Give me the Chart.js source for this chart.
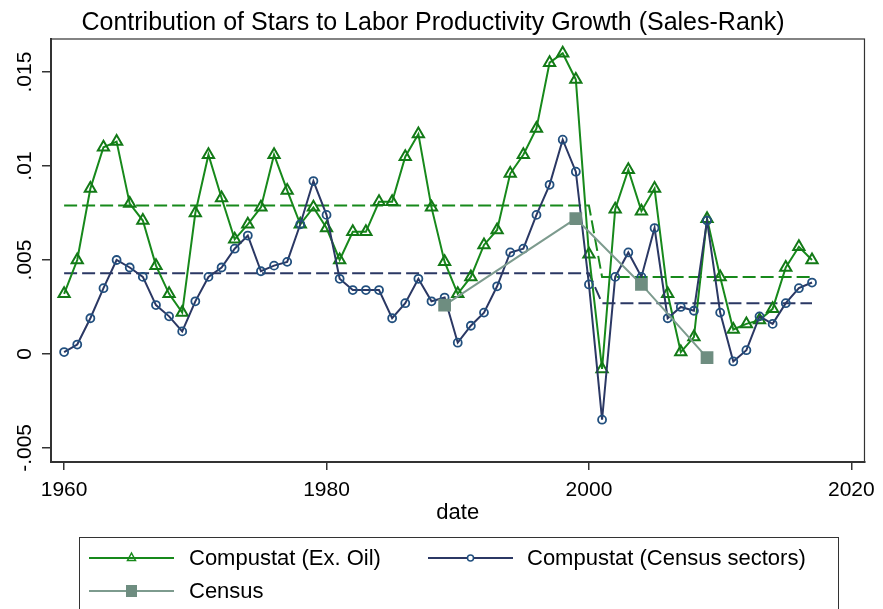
<!DOCTYPE html>
<html>
<head>
<meta charset="utf-8">
<script src="https://cdn.jsdelivr.net/npm/chart.js@4/dist/chart.umd.min.js"></script>
<style>
  html, body { margin: 0; padding: 0; background: #fff; }
  #wrap { width: 883px; height: 609px; }
</style>
</head>
<body>
<div id="wrap"><canvas id="stars-chart" width="883" height="609"></canvas></div>
<script>
// years of the Compustat series
const years = [
  1960, 1961, 1962, 1963, 1964, 1965, 1966, 1967, 1968, 1969,
  1970, 1971, 1972, 1973, 1974, 1975, 1976, 1977, 1978, 1979,
  1980, 1981, 1982, 1983, 1984, 1985, 1986, 1987, 1988, 1989,
  1990, 1991, 1992, 1993, 1994, 1995, 1996, 1997, 1998, 1999,
  2000, 2001, 2002, 2003, 2004, 2005, 2006, 2007, 2008, 2009,
  2010, 2011, 2012, 2013, 2014, 2015, 2016, 2017
];

const compustatExOil = [
  0.0032, 0.0050, 0.0088, 0.0110, 0.0113, 0.0080, 0.0071, 0.0047, 0.0032, 0.0022,
  0.0075, 0.0106, 0.0083, 0.0061, 0.0069, 0.0078, 0.0106, 0.0087, 0.0069, 0.0078,
  0.0067, 0.0050, 0.0065, 0.0065, 0.0081, 0.0081, 0.0105, 0.0117, 0.0078, 0.0049,
  0.0032, 0.0041, 0.0058, 0.0066, 0.0096, 0.0106, 0.0120, 0.0155, 0.0160, 0.0146,
  0.0053, -0.0008, 0.0077, 0.0098, 0.0076, 0.0088, 0.0032, 0.0001, 0.0009, 0.0072,
  0.0041, 0.0013, 0.0016, 0.0018, 0.0024, 0.0046, 0.0057, 0.0050
];

const compustatCensus = [
  0.0001, 0.0005, 0.0019, 0.0035, 0.0050, 0.0046, 0.0041, 0.0026, 0.0020, 0.0012,
  0.0028, 0.0041, 0.0046, 0.0056, 0.0063, 0.0044, 0.0047, 0.0049, 0.0069, 0.0092,
  0.0074, 0.0040, 0.0034, 0.0034, 0.0034, 0.0019, 0.0027, 0.0040, 0.0028, 0.0030,
  0.0006, 0.0015, 0.0022, 0.0036, 0.0054, 0.0056, 0.0074, 0.0090, 0.0114, 0.0097,
  0.0037, -0.0035, 0.0041, 0.0054, 0.0041, 0.0067, 0.0019, 0.0025, 0.0023, 0.0071,
  0.0022, -0.0004, 0.0002, 0.0020, 0.0016, 0.0027, 0.0035, 0.0038
];

// census benchmark years
const censusYears = [1989, 1999, 2004, 2009];
const census = [0.0026, 0.0072, 0.0037, -0.0002];

// period averages (dashed), before / after 2000
const meanYears = [1960, 2000, 2001, 2017];
const exOilMean = [0.0079, 0.0079, 0.0041, 0.0041];
const censusSectorMean = [0.0043, 0.0043, 0.0027, 0.0027];

const xTicks = [1960, 1980, 2000, 2020];
const yTicks = [-0.005, 0, 0.005, 0.01, 0.015];
const yTickLabels = ['-.005', '0', '.005', '.01', '.015'];

const legendLabels = ['Compustat (Ex. Oil)', 'Compustat (Census sectors)', 'Census'];

const GREEN = '#17891b';
const NAVY = '#2b3864';
const NAVY_MARK = '#22507f';
const GREY = '#7d9b8e';
const GREY_MARK = '#6e8d80';
const FONT = "'Liberation Sans', Arial, sans-serif";
const AXIS = '#333';

const pts = (xs, ys) => xs.map((x, i) => ({ x: x, y: ys[i] }));

// rotated y tick labels, plot frame and the boxed legend
const stataBits = {
  id: 'stataBits',
  afterDraw(chart) {
    const ctx = chart.ctx;
    const area = chart.chartArea;
    const y = chart.scales.y;

    ctx.save();
    ctx.strokeStyle = AXIS;
    ctx.lineWidth = 1.2;
    ctx.strokeRect(area.left, area.top, area.right - area.left, area.bottom - area.top);

    ctx.fillStyle = '#000';
    ctx.font = '21px ' + FONT;
    ctx.textAlign = 'center';
    ctx.textBaseline = 'middle';
    yTicks.forEach((v, i) => {
      ctx.save();
      ctx.translate(25, y.getPixelForValue(v));
      ctx.rotate(-Math.PI / 2);
      ctx.fillText(yTickLabels[i], 0, 0);
      ctx.restore();
    });

    // legend
    ctx.lineWidth = 1;
    ctx.strokeStyle = AXIS;
    ctx.strokeRect(79.5, 537.5, 759, 90);
    ctx.font = '22px ' + FONT;
    ctx.textAlign = 'left';

    const sample = (x0, yy, color, width) => {
      ctx.strokeStyle = color;
      ctx.lineWidth = width;
      ctx.beginPath();
      ctx.moveTo(x0, yy);
      ctx.lineTo(x0 + 85, yy);
      ctx.stroke();
    };

    // Compustat (Ex. Oil)
    sample(89, 558, GREEN, 2);
    ctx.fillStyle = '#fff';
    ctx.strokeStyle = GREEN;
    ctx.lineWidth = 1.5;
    ctx.beginPath();
    ctx.moveTo(131.5, 553);
    ctx.lineTo(135.5, 560.5);
    ctx.lineTo(127.5, 560.5);
    ctx.closePath();
    ctx.stroke();
    ctx.fillStyle = '#000';
    ctx.fillText(legendLabels[0], 189, 559);

    // Compustat (Census sectors)
    sample(428, 558, NAVY, 2);
    ctx.strokeStyle = NAVY_MARK;
    ctx.lineWidth = 1.5;
    ctx.fillStyle = '#fff';
    ctx.beginPath();
    ctx.arc(470.5, 558, 3, 0, Math.PI * 2);
    ctx.fill();
    ctx.stroke();
    ctx.fillStyle = '#000';
    ctx.fillText(legendLabels[1], 527, 559);

    // Census
    sample(89, 591, GREY, 2);
    ctx.fillStyle = GREY_MARK;
    ctx.fillRect(126, 585, 11, 12);
    ctx.fillStyle = '#000';
    ctx.fillText(legendLabels[2], 189, 592);
    ctx.restore();
  }
};

const ctx = document.getElementById('stars-chart').getContext('2d');
new Chart(ctx, {
  type: 'line',
  data: {
    datasets: [
      {
        label: legendLabels[2],
        data: pts(censusYears, census),
        borderColor: GREY,
        borderWidth: 2,
        pointStyle: 'rect',
        pointRadius: 9,
        pointBackgroundColor: GREY_MARK,
        pointBorderColor: GREY_MARK,
        pointBorderWidth: 0,
        order: 1
      },
      {
        label: legendLabels[1],
        data: pts(years, compustatCensus),
        borderColor: NAVY,
        borderWidth: 2,
        pointStyle: 'circle',
        pointRadius: 4,
        pointBackgroundColor: 'rgba(255,255,255,0)',
        pointBorderColor: NAVY_MARK,
        pointBorderWidth: 1.8,
        order: 2
      },
      {
        label: legendLabels[0],
        data: pts(years, compustatExOil),
        borderColor: GREEN,
        borderWidth: 2,
        pointStyle: 'triangle',
        pointRadius: 6.5,
        pointBackgroundColor: 'rgba(255,255,255,0)',
        pointBorderColor: '#137a17',
        pointBorderWidth: 2,
        order: 3
      },
      {
        label: 'mean ex oil',
        data: pts(meanYears, exOilMean),
        borderColor: GREEN,
        borderWidth: 2,
        borderDash: [13, 5],
        pointRadius: 0,
        order: 4
      },
      {
        label: 'mean census sectors',
        data: pts(meanYears, censusSectorMean),
        borderColor: NAVY,
        borderWidth: 2,
        borderDash: [13, 5],
        pointRadius: 0,
        order: 5
      }
    ]
  },
  options: {
    responsive: false,
    animation: false,
    layout: { padding: { left: 0, right: 17, top: 0, bottom: 83 } },
    elements: { line: { tension: 0 } },
    plugins: {
      legend: { display: false },
      tooltip: { enabled: false },
      title: {
        display: true,
        text: 'Contribution of Stars to Labor Productivity Growth (Sales-Rank)',
        color: '#000',
        font: { family: FONT, size: 25, weight: 'normal' },
        padding: { top: 8, bottom: 1 }
      }
    },
    scales: {
      x: {
        type: 'linear',
        min: 1959,
        max: 2021,
        afterBuildTicks: s => { s.ticks = xTicks.map(v => ({ value: v })); },
        afterFit: s => { s.height = 64; },
        grid: { display: true, drawOnChartArea: false, drawTicks: true, tickLength: 8, color: AXIS, lineWidth: 1.5 },
        border: { display: true, color: AXIS, width: 2 },
        ticks: {
          color: '#000',
          font: { family: FONT, size: 21 },
          padding: 8,
          maxRotation: 0,
          callback: v => String(v)
        },
        title: {
          display: true,
          text: 'date',
          color: '#000',
          font: { family: FONT, size: 22 },
          padding: 0
        }
      },
      y: {
        min: -0.00575,
        max: 0.01676,
        afterBuildTicks: s => { s.ticks = yTicks.map(v => ({ value: v })); },
        afterFit: s => { s.width = 51; },
        grid: { display: true, drawOnChartArea: false, drawTicks: true, tickLength: 9, color: AXIS, lineWidth: 1.5 },
        border: { display: true, color: AXIS, width: 2 },
        ticks: { display: false }
      }
    }
  },
  plugins: [stataBits]
});
</script>
</body>
</html>
